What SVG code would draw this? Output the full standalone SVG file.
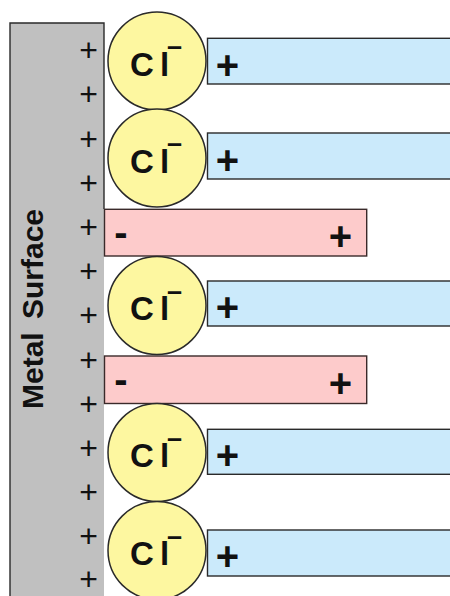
<svg xmlns="http://www.w3.org/2000/svg" width="450" height="596" viewBox="0 0 450 596">
  <style>
    .metal { fill: #c0c0c0; stroke: none; }
    .edge { stroke: #2a2a2a; stroke-width: 1.4; fill: none; }
    .water { fill: #cbeafb; stroke: #2a2a2a; stroke-width: 1.4; }
    .dipole { fill: #fdcbcb; stroke: #3a2a2a; stroke-width: 1.4; }
    .ion { fill: #fdf7a0; stroke: #2a2a2a; stroke-width: 1.5; }
    .sym { font-family: "Liberation Sans", Arial, sans-serif; font-weight: bold; fill: #111; }
    .surf { font-family: "Liberation Sans", Arial, sans-serif; font-size: 32px; fill: #111; text-anchor: middle; }
    .label { font-family: "Liberation Sans", Arial, sans-serif; font-weight: bold; font-size: 30px; word-spacing: 5px; fill: #111; text-anchor: middle; }
  </style>
  <defs>
    <!-- chloride ion: circle with "Cl" and a superscript minus, centred on 0,0 -->
    <g id="cl-ion">
      <circle class="ion" cx="0" cy="0" r="49"/>
      <text class="sym" font-size="33" y="14.5"><tspan x="-27">C</tspan><tspan x="3">l</tspan><tspan x="10" y="-6" font-size="27">–</tspan></text>
    </g>
  </defs>

  <!-- metal electrode with its surface charges -->
  <g id="metal">
    <rect class="metal" x="10" y="23" width="94" height="580"/>
    <path class="edge" d="M10,600 V23 H104 V209"/>
    <text class="label" transform="translate(43,309) rotate(-90)">Metal Surface</text>
    <g class="surf-charges">
      <text class="surf" x="88.7" y="61">+</text>
      <text class="surf" x="88.7" y="105">+</text>
      <text class="surf" x="88.7" y="149.5">+</text>
      <text class="surf" x="88.7" y="194">+</text>
      <text class="surf" x="88.7" y="238">+</text>
      <text class="surf" x="88.7" y="282">+</text>
      <text class="surf" x="88.7" y="326">+</text>
      <text class="surf" x="88.7" y="371">+</text>
      <text class="surf" x="88.7" y="415">+</text>
      <text class="surf" x="88.7" y="459">+</text>
      <text class="surf" x="88.7" y="503">+</text>
      <text class="surf" x="88.7" y="547">+</text>
      <text class="surf" x="88.7" y="590">+</text>
    </g>
  </g>

  <!-- hydrated layer bars (positive end towards the ion) -->
  <g id="water-1">
    <rect class="water" x="207.5" y="38.3" width="250" height="45.7"/>
    <text class="sym" font-size="40" x="227.5" y="79" text-anchor="middle">+</text>
  </g>
  <g id="water-2">
    <rect class="water" x="207.5" y="133" width="250" height="46"/>
    <text class="sym" font-size="40" x="227.5" y="174" text-anchor="middle">+</text>
  </g>
  <g id="water-3">
    <rect class="water" x="207.5" y="281" width="250" height="45"/>
    <text class="sym" font-size="40" x="227.5" y="321" text-anchor="middle">+</text>
  </g>
  <g id="water-4">
    <rect class="water" x="207.5" y="429.3" width="250" height="45"/>
    <text class="sym" font-size="40" x="227.5" y="469" text-anchor="middle">+</text>
  </g>
  <g id="water-5">
    <rect class="water" x="207.5" y="530" width="250" height="46"/>
    <text class="sym" font-size="40" x="227.5" y="570" text-anchor="middle">+</text>
  </g>

  <!-- adsorbed dipoles on the surface -->
  <g id="dipole-1">
    <rect class="dipole" x="104.5" y="209.3" width="262.2" height="46.7"/>
    <text class="sym" font-size="40" x="120.8" y="246" text-anchor="middle">-</text>
    <text class="sym" font-size="40" x="340.5" y="250" text-anchor="middle">+</text>
  </g>
  <g id="dipole-2">
    <rect class="dipole" x="104.5" y="356" width="262.2" height="47.5"/>
    <text class="sym" font-size="40" x="120.8" y="392.5" text-anchor="middle">-</text>
    <text class="sym" font-size="40" x="340.5" y="396.5" text-anchor="middle">+</text>
  </g>

  <!-- chloride ions -->
  <g id="cl-1"><use href="#cl-ion" x="157" y="61"/></g>
  <g id="cl-2"><use href="#cl-ion" x="157" y="158"/></g>
  <g id="cl-3"><use href="#cl-ion" x="157" y="305.5"/></g>
  <g id="cl-4"><use href="#cl-ion" x="157" y="452.5"/></g>
  <g id="cl-5"><use href="#cl-ion" x="157" y="550.5"/></g>
</svg>
